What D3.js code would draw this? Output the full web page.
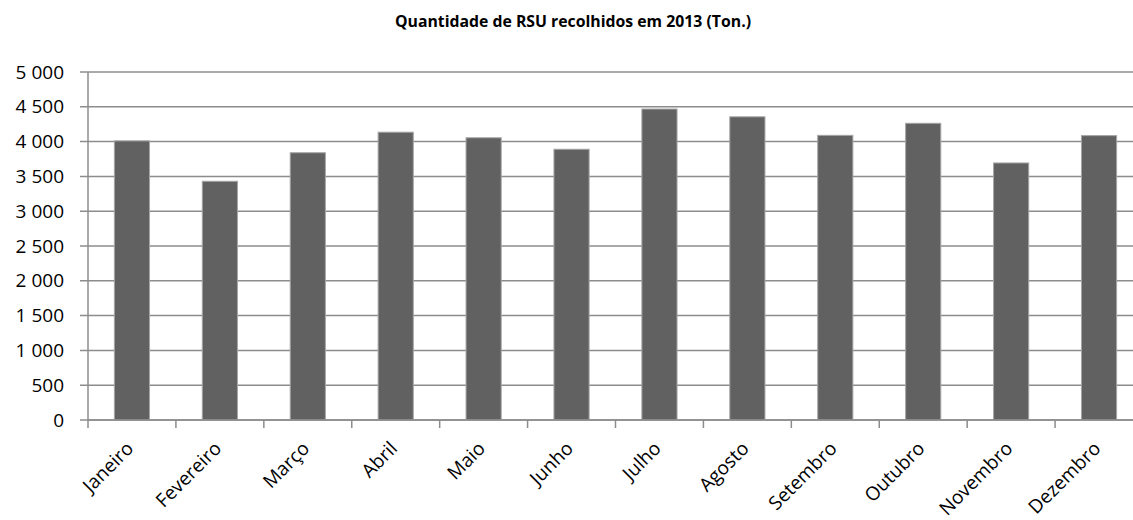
<!DOCTYPE html>
<html>
<head>
  <meta charset="utf-8">
  <title>Quantidade de RSU recolhidos em 2013</title>
  <script src="https://cdn.jsdelivr.net/npm/d3@7"></script>
  <style>
    body { margin: 0; background: #ffffff; }
    svg { display: block; font-family: "Open Sans", sans-serif; }
    .grid line { stroke: #8c8c8c; stroke-width: 1.5px; }
    .bar { fill: #616161; stroke: #a6a6a6; stroke-width: 1px; }
    .axis path, .axis line { stroke: #8c8c8c; stroke-width: 1.5px; }
    .axis text { fill: #000; font-size: 19px; font-family: "Open Sans", sans-serif; }
  </style>
</head>
<body>
  <script>
    // dados
    const meses = ["Janeiro", "Fevereiro", "Março", "Abril", "Maio", "Junho",
      "Julho", "Agosto", "Setembro", "Outubro", "Novembro", "Dezembro"];
    const toneladas = [4010, 3430, 3840, 4135, 4055, 3890,
      4468, 4356, 4090, 4263, 3693, 4086];
    const yTicks = [0, 500, 1000, 1500, 2000, 2500, 3000, 3500, 4000, 4500, 5000];
    const titulo = "Quantidade de RSU recolhidos em 2013 (Ton.)";

    const w = 1133;
    const h = 520;
    const mLeft = 88, mRight = 1143, mTop = 72, mBottom = 420;

    const svg = d3.select("body").append("svg")
      .attr("width", w)
      .attr("height", h);

    const xScale = d3.scaleBand()
      .domain(meses)
      .range([mLeft, mRight])
      .paddingInner(0.6)
      .paddingOuter(0.3);

    const yScale = d3.scaleLinear()
      .domain([0, 5000])
      .range([mBottom, mTop]);

    const fmt = d3.formatLocale({ decimal: ",", thousands: " ", grouping: [3], currency: ["", ""] }).format(",");

    // linhas de grelha (com traço à esquerda do eixo)
    svg.append("g")
      .attr("class", "grid")
      .selectAll("line")
      .data(yTicks)
      .enter()
      .append("line")
      .attr("x1", mLeft - 8)
      .attr("x2", w)
      .attr("y1", function (d) { return yScale(d); })
      .attr("y2", function (d) { return yScale(d); });

    // barras
    svg.selectAll("rect.bar")
      .data(meses)
      .enter()
      .append("rect")
      .attr("class", "bar")
      .attr("x", function (d) { return xScale(d); })
      .attr("width", xScale.bandwidth())
      .attr("y", function (d, i) { return yScale(toneladas[i]); })
      .attr("height", function (d, i) { return yScale(0) - yScale(toneladas[i]); });

    // eixo y
    const yAxis = d3.axisLeft(yScale)
      .tickValues(yTicks)
      .tickFormat(fmt)
      .tickSize(0)
      .tickPadding(24);
    svg.append("g")
      .attr("class", "axis")
      .attr("transform", "translate(" + mLeft + ",0)")
      .call(yAxis)
      .call(function (g) { g.select(".domain").attr("d", "M0," + mTop + "V" + mBottom); });

    // eixo x: traços nas fronteiras das categorias
    const xAxisG = svg.append("g")
      .attr("class", "axis")
      .attr("transform", "translate(0," + mBottom + ")");
    xAxisG.append("path")
      .attr("d", "M" + mLeft + ",0H" + w);
    const fronteiras = meses.map(function (d) { return xScale(d) - xScale.step() * 0.3; });
    xAxisG.selectAll("line")
      .data(fronteiras)
      .enter()
      .append("line")
      .attr("x1", function (d) { return d; })
      .attr("x2", function (d) { return d; })
      .attr("y1", 0)
      .attr("y2", 8);

    xAxisG.selectAll("text")
      .data(meses)
      .enter()
      .append("text")
      .attr("text-anchor", "end")
      .attr("transform", function (d) {
        const cx = xScale(d) + xScale.bandwidth() / 2 - 2;
        return "translate(" + cx + ",25) rotate(-45)";
      })
      .attr("dy", "0.35em")
      .text(function (d) { return d; });

    // título
    svg.append("text")
      .attr("x", 573)
      .attr("y", 27)
      .attr("text-anchor", "middle")
      .attr("font-size", "15.8px")
      .attr("font-weight", "bold")
      .text(titulo);
  </script>
</body>
</html>
